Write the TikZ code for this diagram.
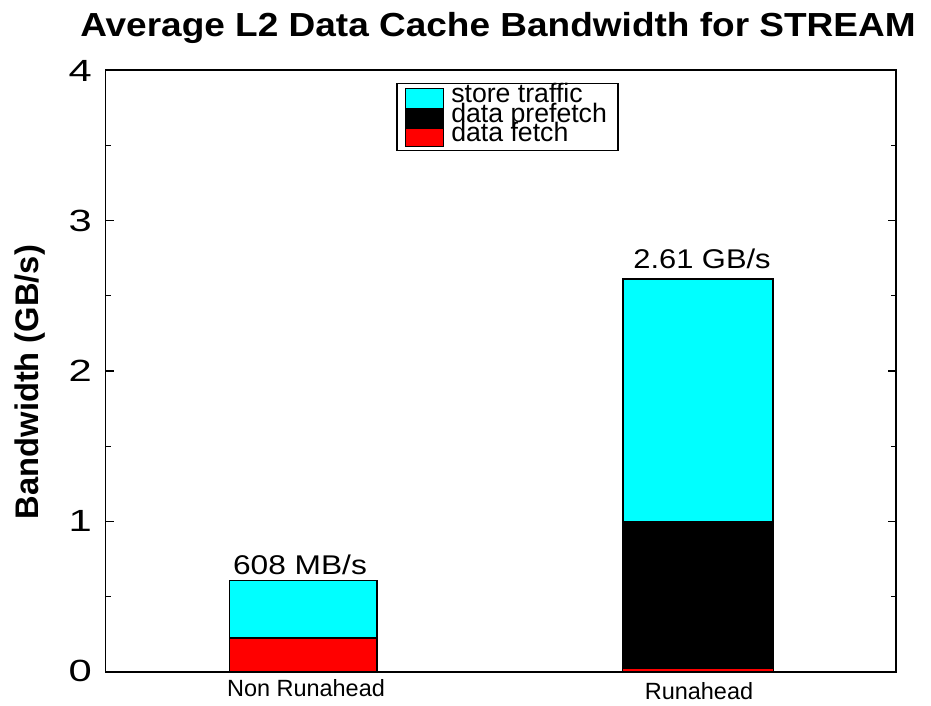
\documentclass[tikz,border=0pt]{standalone}
\usepackage{fontspec}
\setmainfont{Liberation Sans}
\definecolor{aqua}{RGB}{0,255,255}
\definecolor{pured}{RGB}{255,0,0}
\begin{document}
\begin{tikzpicture}[x=0.75pt,y=-0.75pt,
  axisline/.style={line width=1.3pt,black},
  barbox/.style={draw=black,line width=1.1pt},
  ticklab/.style={anchor=east,inner sep=0pt,font=\fontsize{23}{23}\selectfont},
  barlab/.style={anchor=base,inner sep=0pt,font=\fontsize{20.3}{20.3}\selectfont},
  catlab/.style={anchor=base,inner sep=0pt,font=\fontsize{17.6}{17.6}\selectfont},
  leglab/.style={anchor=base west,inner sep=0pt,font=\fontsize{20}{20}\selectfont},
  swatch/.style={draw=black,line width=0.6pt}]
\useasboundingbox (0,0) rectangle (931,706);
\fill[white] (0,0) rectangle (931,706);
% bars: Non Runahead
\path[barbox,fill=aqua] (229.5,672) rectangle (377,580.5);
\path[barbox,fill=pured] (229.5,672) rectangle (377,637.8);
% bars: Runahead
\path[barbox,fill=aqua] (623,672) rectangle (773,279.2);
\path[barbox,fill=black] (623,669) rectangle (773,521.5);
\fill[pured] (623,672) rectangle (773,668.5);
% axes frame
\draw[axisline] (105.5,70) rectangle (896,672);
% ticks
\foreach \v in {0,1,2,3,4}{
  \draw[axisline] (105.5,{672-150.5*\v}) -- ++(8,0);
  \draw[axisline] (896,{672-150.5*\v}) -- ++(-8,0);
}
\foreach \v in {0.5,1.5,2.5,3.5}{
  \draw[line width=1pt] (105.5,{672-150.5*\v}) -- ++(5,0);
  \draw[line width=1pt] (896,{672-150.5*\v}) -- ++(-5,0);
}
\node[ticklab] (t0) at (92,671) {\scalebox{1.36}[1]{0}};
\node[ticklab] (t1) at (92,521) {\scalebox{1.36}[1]{1}};
\node[ticklab] (t2) at (92,370.5) {\scalebox{1.36}[1]{2}};
\node[ticklab] (t3) at (92,220.5) {\scalebox{1.36}[1]{3}};
\node[ticklab] (t4) at (92,70.5) {\scalebox{1.36}[1]{4}};
% labels
\node[barlab] (l1) at (300,574) {\scalebox{1.17}[1]{608 MB/s}};
\node[barlab] (l2) at (702,268) {\scalebox{1.14}[1]{2.61 GB/s}};
\node[catlab] (c1) at (306,696) {Non Runahead};
\node[catlab] (c2) at (699,699) {Runahead};
\node[anchor=base,inner sep=0pt,font=\bfseries\fontsize{25}{25}\selectfont] (title) at (498,37) {\scalebox{1.11}[1]{Average L2 Data Cache Bandwidth for STREAM}};
\node[anchor=base,inner sep=0pt,rotate=90,font=\bfseries\fontsize{24.5}{24.5}\selectfont] (ylab) at (38,382) {Bandwidth (GB/s)};
% legend
\draw[line width=1pt,fill=white] (397,83.5) rectangle (618,150.5);
\path[swatch,fill=aqua] (405,88) rectangle (443,108);
\path[swatch,fill=black] (405,108) rectangle (443,128);
\path[swatch,fill=pured] (405,128) rectangle (443,146);
\node[leglab] (g1) at (451,103) {store traffic};
\node[leglab] (g2) at (451,122.5) {data prefetch};
\node[leglab] (g3) at (451,142) {data fetch};
\end{tikzpicture}
\end{document}
